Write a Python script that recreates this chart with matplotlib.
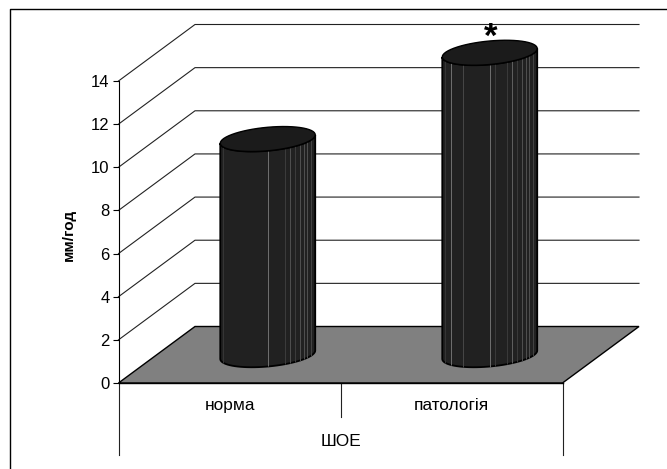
import numpy as np
import matplotlib
matplotlib.use("Agg")
import matplotlib.pyplot as plt
from matplotlib.patches import Polygon

categories = ["норма", "патологія"]
group_label = "ШОЕ"
values = [10, 14]
y_ticks = [0, 2, 4, 6, 8, 10, 12, 14]
y_label = "мм/год"
marks = ["", "*"]

W, H = 667, 469
plt.rcParams['font.family'] = ['Liberation Sans', 'DejaVu Sans']
fig = plt.figure(figsize=(W / 100, H / 100), dpi=100, facecolor='white')
L, R, T, B = 118.5, 562.5, 81.0, 383.0
ax = fig.add_axes([L / W, 1 - B / H, (R - L) / W, (B - T) / H])
ax.set_xlim(0, 2)
ax.set_ylim(0, 14)
ax.set_facecolor('none')
for s in ('top', 'right', 'bottom'):
    ax.spines[s].set_visible(False)
ax.spines['left'].set_linewidth(0.8)

ux = 2 / (R - L)      # data per pixel
uy = 14 / (B - T)
dx, dy = 76.5 * ux, 56.5 * uy   # depth of the 3-D box

# wall gridlines
for v in y_ticks[1:]:
    ax.plot([0, dx, 2 + dx], [v, v + dy, v + dy], color='#222222', lw=0.8,
            clip_on=False, zorder=1)

# floor
ax.add_patch(Polygon([(0, 0), (dx, dy), (2 + dx, dy), (2, 0)], closed=True,
                     facecolor='#808080', edgecolor='black', lw=1.0,
                     clip_on=False, zorder=2))

# cylinders
ax_w, ax_h = 44.7 * ux, 12.5 * uy
vx, vy = 16.0 * ux, 12.5 * uy
facets = [
    [(2.7, '#363636'), (47.7, '#707070'), (64.3, '#3c3c3c'), (69.3, '#505050'),
     (75, '#3c3c3c'), (79.3, '#505050'), (83.3, '#505050'), (86.7, '#505050'),
     (90.7, '#444444')],
    [(3, '#363636'), (8.7, '#707070'), (20.3, '#484848'), (47.3, '#707070'),
     (52.3, '#3a3a3a'), (64.3, '#3a3a3a'), (69.7, '#606060'), (75, '#3a3a3a'),
     (79.3, '#505050'), (83.7, '#505050'), (87, '#505050'), (91, '#444444')],
]

def ring(cx, cy, t):
    return (cx + ax_w * np.cos(t) + vx * np.sin(t),
            cy + vy * np.sin(t))

t_peak = np.arctan2(vx, ax_w)
half_w = np.hypot(ax_w, vx)
for i, v in enumerate(values):
    cx = i + 0.5 + dx / 2
    cy0 = dy / 2
    t_front = np.linspace(t_peak - np.pi, t_peak, 40)
    bx, by = ring(cx, cy0, t_front)
    tx, ty = ring(cx, cy0 + v, t_front)
    body = np.r_[np.c_[bx, by], np.c_[tx[::-1], ty[::-1]]]
    ax.add_patch(Polygon(body, closed=True, facecolor='#212121', edgecolor='black',
                         lw=1.3, clip_on=False, zorder=3))
    left = cx - half_w
    for off, col in facets[i]:
        fx = left + off * ux
        yb = np.interp(fx, bx, by)
        yt = np.interp(fx, tx, ty)
        ax.plot([fx, fx], [yb, yt], color=col, lw=0.7, clip_on=False, zorder=4,
                solid_capstyle='butt')
    t_all = np.linspace(0, 2 * np.pi, 60)
    ex, ey = ring(cx, cy0 + v, t_all)
    ax.add_patch(Polygon(np.c_[ex, ey], closed=True, facecolor='#1b1b1b',
                         edgecolor='black', lw=1.0, clip_on=False, zorder=5))
    if marks[i]:
        ax.text(cx + 1 * ux, cy0 + v + 15 * uy, marks[i], ha='center', va='center',
                fontsize=25, fontweight='bold', clip_on=False, zorder=6)

# value axis
ax.set_yticks(y_ticks)
ax.tick_params(axis='y', length=4.5, width=0.8, pad=2, labelsize=12)

# category axis
ax.set_xticks([i + 0.5 for i in range(len(categories))], categories)
ax.tick_params(axis='x', length=0, pad=10.5, labelsize=12.4)
trans = ax.get_xaxis_transform()
for x, low in [(0, 71.5), (1, 34), (2, 71.5)]:
    ax.plot([x, x], [0, -low / (B - T)], transform=trans, color='#222222', lw=0.8,
            clip_on=False, zorder=1)
ax.plot([0, 2], [0, 0], color='black', lw=1.0, clip_on=False, zorder=3)
ax.text(1, -58.5 / (B - T), group_label, transform=trans, ha='center', va='center',
        fontsize=12.4)
ax.set_ylabel(y_label, fontsize=11, fontweight='bold')
ax.yaxis.set_label_coords((76 - L) / (R - L), (B - 235) / (B - T))

# outer frame: only the top and left edges reach inside the picture
fig.add_artist(plt.Line2D([9.5 / W, 9.5 / W, 1], [0, 1 - 9.5 / H, 1 - 9.5 / H],
                          color='black', lw=1.0))

fig.savefig('out.png', dpi=100, facecolor='white')
